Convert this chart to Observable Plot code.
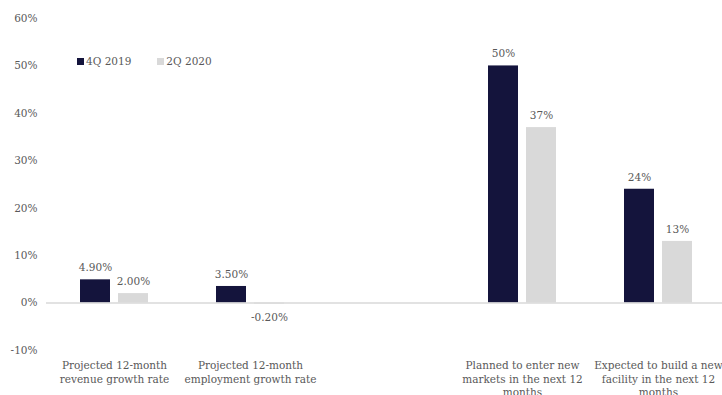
<!DOCTYPE html>
<html>
<head>
<meta charset="utf-8">
<script src="https://cdn.jsdelivr.net/npm/d3@7"></script>
<script src="https://cdn.jsdelivr.net/npm/@observablehq/plot@0.6"></script>
<style>
  body { margin: 0; background: #fff; }
  #wrap { position: relative; width: 722px; height: 395px; font-family: "DejaVu Serif", serif; }
  .legend { position: absolute; top: 55px; left: 77px; display: flex; align-items: center; font-size: 10.5px; color: #595959; }
  .legend .item { display: flex; align-items: center; margin-right: 26px; }
  .legend .sw { width: 7px; height: 7px; margin-right: 2px; }
</style>
</head>
<body>
<div id="wrap"></div>
<script>
const slots = ["Projected 12-month revenue growth rate", "Projected 12-month employment growth rate", " ", "Planned to enter new markets in the next 12 months", "Expected to build a new facility in the next 12 months"];
const slotLabels = ["Projected 12-month\nrevenue growth rate", "Projected 12-month\nemployment growth rate", "", "Planned to enter new\nmarkets in the next 12\nmonths", "Expected to build a new\nfacility in the next 12\nmonths"];
const categories = ["Projected 12-month revenue growth rate", "Projected 12-month employment growth rate", "Planned to enter new markets in the next 12 months", "Expected to build a new facility in the next 12 months"];
const series = ["4Q 2019", "2Q 2020"];
const values4Q2019 = [4.9, 3.5, 50, 24];
const values2Q2020 = [2.0, -0.2, 37, 13];
const labels4Q2019 = ["4.90%", "3.50%", "50%", "24%"];
const labels2Q2020 = ["2.00%", "-0.20%", "37%", "13%"];
const yTicks = [-10, 0, 10, 20, 30, 40, 50, 60];
const colors = ["#14143c", "#d9d9d9"];

const rows = [];
categories.forEach((c, i) => {
  rows.push({cat: c, series: series[0], value: values4Q2019[i], label: labels4Q2019[i]});
  rows.push({cat: c, series: series[1], value: values2Q2020[i], label: labels2Q2020[i]});
});
const catRows = slots.map((c, i) => ({cat: c, label: slotLabels[i]}));

const chart = Plot.plot({
  width: 722,
  height: 395,
  marginLeft: 45,
  marginRight: 0,
  marginTop: 18,
  marginBottom: 45,
  style: {fontFamily: "DejaVu Serif, serif", fontSize: "10.5px", color: "#595959", background: "white"},
  fx: {domain: slots, range: [45, 727], padding: 0, axis: null},
  x: {domain: series, paddingInner: 0.205, paddingOuter: 0.851, axis: null},
  y: {domain: [-10, 60], ticks: yTicks, tickFormat: d => `${d}%`, tickSize: 0, tickPadding: 9, label: null},
  color: {domain: series, range: colors},
  marks: [
    Plot.barY(rows, {fx: "cat", x: "series", y: "value", fill: "series"}),
    Plot.ruleY([0], {stroke: "#d9d9d9", strokeWidth: 1.5}),
    Plot.text(rows.filter(d => d.value >= 0), {fx: "cat", x: "series", y: "value", text: "label", dy: -12, fill: "#595959"}),
    Plot.text(rows.filter(d => d.value < 0), {fx: "cat", x: "series", y: "value", text: "label", dy: 14, fill: "#595959"}),
    Plot.text(catRows, {fx: "cat", text: "label", frameAnchor: "bottom", lineAnchor: "top", dy: 9, lineHeight: 1.3, fill: "#595959"})
  ]
});

const wrap = document.getElementById("wrap");
wrap.appendChild(chart);
const legend = document.createElement("div");
legend.className = "legend";
series.forEach((s, i) => {
  const item = document.createElement("div");
  item.className = "item";
  const sw = document.createElement("span");
  sw.className = "sw";
  sw.style.background = colors[i];
  const t = document.createElement("span");
  t.textContent = s;
  item.appendChild(sw);
  item.appendChild(t);
  legend.appendChild(item);
});
wrap.appendChild(legend);
</script>
</body>
</html>
